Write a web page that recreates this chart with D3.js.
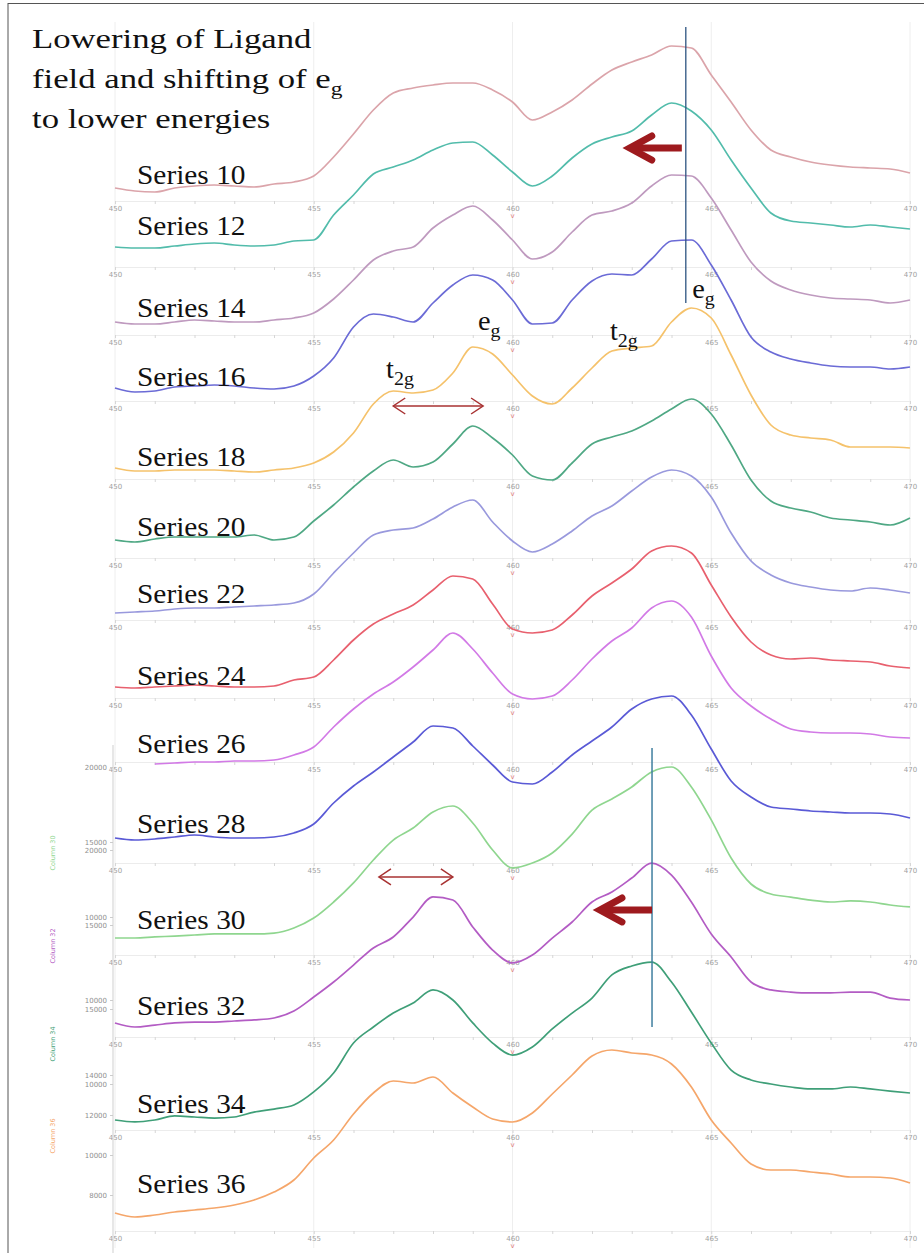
<!DOCTYPE html>
<html>
<head>
<meta charset="utf-8">
<script src="https://cdn.jsdelivr.net/npm/d3@7"></script>
<style>
  html, body { margin: 0; padding: 0; background: #fff; }
  svg { display: block; }
</style>
</head>
<body>
<svg id="chart" width="924" height="1253"></svg>
<script>
// ---- data -------------------------------------------------------------
const wavelength = [450, 450.5, 451, 451.5, 452, 452.5, 453, 453.5, 454, 454.5,
  455, 455.5, 456, 456.5, 457, 457.5, 458, 458.5, 459, 459.5,
  460, 460.5, 461, 461.5, 462, 462.5, 463, 463.5, 464, 464.5,
  465, 465.5, 466, 466.5, 467, 467.5, 468, 468.5, 469, 469.5, 470];

const seriesNames = ["Series 10", "Series 12", "Series 14", "Series 16", "Series 18",
  "Series 20", "Series 22", "Series 24", "Series 26", "Series 28",
  "Series 30", "Series 32", "Series 34", "Series 36"];

const s10 = [11050,10900,10850,11050,11150,11200,11150,11100,11250,11350,11650,12600,13750,14950,15800,16050,16200,16300,16300,15950,15350,14450,14850,15450,16250,16950,17350,17700,18150,18050,16700,15350,13950,12950,12600,12350,12200,12100,12050,12000,11800];
const s12 = [11400,11350,11350,11450,11550,11600,11500,11450,11500,11700,11750,13000,14000,15050,15400,15750,16250,16600,16650,16000,15150,14450,14950,15850,16550,16900,17200,18000,18600,18200,17250,15750,14350,13100,12700,12600,12500,12400,12500,12400,12300];
const s14 = [11050,10950,10950,11050,11150,11100,11050,11050,11150,11250,11500,12200,13150,14150,14600,14800,15750,16400,16850,16150,15150,14200,14550,15550,16400,16600,17000,17850,18400,18350,17250,15650,14050,13100,12650,12400,12250,12200,12150,12000,12150];
const s16 = [11050,10850,10900,11100,11150,11200,11150,11050,11000,11150,11650,12550,14100,14750,14600,14350,15300,16200,16700,16450,15450,14250,14300,15450,16400,16750,16700,17500,18400,18450,17200,15450,13600,12850,12500,12300,12150,12100,12100,12000,12100];
const s18 = [10950,10800,10800,10850,10850,10850,10800,10750,10850,10950,11200,11750,12700,14150,14800,14700,14850,15700,17000,16650,15600,14550,14150,14950,15950,16800,16950,17050,18250,18950,18450,16600,14600,13100,12600,12450,12350,12000,12000,12000,11950];
const s20 = [11300,11200,11350,11450,11450,11450,11450,11550,11300,11450,12250,13050,13950,14750,15300,14950,15200,16100,17000,16400,15550,14500,14300,15150,16100,16450,16750,17250,17850,18350,17600,16050,14300,13250,12900,12700,12400,12300,12200,12050,12400];
const s22 = [10750,10800,10850,10950,11000,11000,11050,11100,11150,11250,11700,12750,13750,14650,14900,15000,15450,16050,16400,15300,14350,13800,14200,14850,15600,16100,16850,17550,17900,17600,16550,14750,13350,12650,12250,12050,11900,11850,12000,11900,11750];
const s24 = [10950,10900,10950,11000,11050,11000,10950,10950,11000,11300,11450,12300,13300,14100,14600,15050,15800,16500,16350,15100,13850,13650,13800,14550,15500,16150,16850,17750,18000,17650,16050,14450,13200,12550,12350,12400,12300,12250,12200,12000,11900];
const s26 = [null,null,10300,10350,10400,10400,10450,10450,10500,10750,11150,12150,13050,13800,14400,15150,16000,16850,16050,14850,13800,13550,13700,14500,15550,16450,17100,18100,18450,17650,15700,14100,13200,12550,12050,11900,11850,11850,11800,11650,11600];
const s28 = [11650,11550,11600,11700,11800,11700,11650,11650,11700,11900,12350,13400,14250,14950,15700,16450,17250,17150,16250,15300,14450,14350,14950,15800,16500,17200,18100,18600,18750,17800,16100,14500,13700,13200,13100,13000,12950,12900,12900,12850,12650];
const s30 = [8600,8600,8670,8730,8800,8870,8870,8870,8930,9270,9930,11000,12270,13800,15130,15930,17000,17400,16270,14470,13270,13600,14270,15530,17130,17870,18670,19670,20000,18670,16470,13930,12200,11530,11330,11130,11000,11070,11000,10800,10670];
const s32 = [8470,8200,8330,8470,8530,8530,8600,8670,8800,9270,10200,11200,12330,13470,14200,15530,16870,16670,14870,13330,12470,13000,14130,15200,16530,17200,18130,19130,18330,16530,14400,12870,11200,10670,10530,10470,10470,10530,10530,10130,10000];
const s34 = [7600,7470,7600,7870,7800,7730,7800,8130,8330,8600,9470,10730,12730,13800,14730,15400,16270,15600,14070,12730,11930,12470,13670,14730,15730,17270,17870,18130,16800,14800,12730,10930,10270,10000,9800,9670,9670,9800,9670,9530,9400];
const s36 = [7100,6900,7000,7150,7250,7350,7500,7750,8150,8750,9850,10750,12050,13100,13700,13600,13900,13100,12400,11800,11650,12100,13050,14000,14950,15250,15100,15000,14550,13400,11750,10600,9550,9250,9250,9150,9050,8900,8900,8850,8600];

const seriesValues = [s10, s12, s14, s16, s18, s20, s22, s24, s26, s28, s30, s32, s34, s36];

const xTickLabels = [450, 455, 460, 465, 470];
const columnNames = ["Column 30", "Column 32", "Column 34", "Column 36"];
const countTicks = [[10000, 15000, 20000], [10000, 15000, 20000], [10000, 15000], [8000, 10000, 12000, 14000]];

// ---- layout -----------------------------------------------------------
const W = 924, H = 1253;
const seriesColors = ["#dba4aa", "#52bcab", "#bf9abf", "#6b6bd6", "#f5c26b", "#4fa884", "#9999dd",
  "#e8606e", "#d27ae6", "#5a5ad6", "#8fd68f", "#b35cc4", "#3f9f78", "#f5a66a"];
const axisRowY = [209, 275, 343, 409, 487, 566, 628, 706, 770, 871, 963, 1045, 1138, 1239];
const labelBaseY = [184, 235, 317, 386, 466, 536, 603, 685, 753, 833, 929, 1015, 1113, 1193];

const svg = d3.select("#chart");
const x = d3.scaleLinear().domain([450, 470]).range([115, 910]);

// one vertical scale per stacked panel (counts -> pixels)
const yScales = axisRowY.map((ry, i) => {
  if (i < 10) return d3.scaleLinear().domain([10000, 20000]).range([ry, ry - 200]);
  if (i === 10) return d3.scaleLinear().domain([10000, 20000]).range([917, 767]);
  if (i === 11) return d3.scaleLinear().domain([10000, 20000]).range([1000, 850]);
  if (i === 12) return d3.scaleLinear().domain([10000, 15000]).range([1084, 1009]);
  return d3.scaleLinear().domain([8000, 14000]).range([1195, 1075]);
});
const at = (panel, nm, count) => [x(nm), yScales[panel](count)];

// ---- frame and faint grid -----------------------------------------------
svg.append("line").attr("x1", 8).attr("x2", 8).attr("y1", 3).attr("y2", H)
  .attr("stroke", "#555").attr("stroke-width", 1);
svg.append("line").attr("x1", 8).attr("x2", W).attr("y1", 3.5).attr("y2", 3.5)
  .attr("stroke", "#555").attr("stroke-width", 1);

svg.append("g").selectAll("line").data(xTickLabels).join("line")
  .attr("x1", d => x(d)).attr("x2", d => x(d))
  .attr("y1", 22).attr("y2", 1248)
  .attr("stroke", "#eeeeee").attr("stroke-width", 1);

// ---- per-panel wavelength axes -------------------------------------------
const minorTicks = d3.range(450, 471, 1);
axisRowY.forEach((ry) => {
  const g = svg.append("g").attr("transform", `translate(0,${ry - 8})`)
    .call(d3.axisBottom(x).tickValues(minorTicks).tickSize(3).tickSizeOuter(0).tickPadding(2)
      .tickFormat(d => xTickLabels.includes(d) ? d : ""));
  g.select(".domain").attr("stroke", "#ececec");
  g.selectAll(".tick line").attr("stroke", "#d6d6d6");
  g.selectAll(".tick text").attr("fill", "#a0a0a0")
    .style("font-family", "'DejaVu Sans', sans-serif").style("font-size", "7px");
  svg.append("text").attr("x", x(460)).attr("y", ry + 9)
    .attr("text-anchor", "middle").attr("fill", "#e07b7b")
    .style("font-family", "'DejaVu Sans', sans-serif").style("font-size", "7px")
    .text("v");
});

// ---- count axes of the lower panels ---------------------------------------
svg.append("line").attr("x1", 113).attr("x2", 113).attr("y1", 745).attr("y2", H)
  .attr("stroke", "#cfcfcf").attr("stroke-width", 1);
countTicks.forEach((ticks, k) => {
  const g = svg.append("g").attr("transform", "translate(113,0)")
    .call(d3.axisLeft(yScales[10 + k]).tickValues(ticks).tickSize(3).tickSizeOuter(0).tickPadding(3)
      .tickFormat(d3.format("d")));
  g.select(".domain").remove();
  g.selectAll(".tick line").attr("stroke", "#cccccc");
  g.selectAll(".tick text").attr("fill", "#8f8f8f")
    .style("font-family", "'DejaVu Sans', sans-serif").style("font-size", "7px");
});
const columnCenters = [853, 946, 1044, 1136];
columnNames.forEach((name, k) => {
  svg.append("text")
    .attr("transform", `translate(55,${columnCenters[k]}) rotate(-90)`)
    .attr("text-anchor", "middle")
    .attr("fill", seriesColors[10 + k])
    .style("font-family", "'DejaVu Sans', sans-serif").style("font-size", "6.5px")
    .text(name);
});

// ---- spectra ---------------------------------------------------------------
seriesValues.forEach((vals, i) => {
  const line = d3.line()
    .defined(d => d != null)
    .x((d, j) => x(wavelength[j]))
    .y(d => yScales[i](d))
    .curve(d3.curveMonotoneX);
  svg.append("path")
    .datum(vals)
    .attr("d", line)
    .attr("fill", "none")
    .attr("stroke", seriesColors[i])
    .attr("stroke-width", 1.7)
    .attr("stroke-linejoin", "round");
});

// ---- text ------------------------------------------------------------------
const serif = "'Liberation Serif', 'Times New Roman', serif";

seriesNames.forEach((name, i) => {
  svg.append("text")
    .attr("transform", `translate(137,${labelBaseY[i]}) scale(1.05,1)`)
    .attr("fill", "#111")
    .style("font-family", serif).style("font-size", "28px")
    .text(name);
});

const titleLines = [
  { y: 48, main: "Lowering of Ligand", sub: "" },
  { y: 88, main: "field and shifting of e", sub: "g" },
  { y: 128, main: "to lower energies", sub: "" }
];
titleLines.forEach(t => {
  const tx = svg.append("text")
    .attr("transform", `translate(32,${t.y}) scale(1.24,1)`)
    .attr("fill", "#111")
    .style("font-family", serif).style("font-size", "28px");
  tx.append("tspan").text(t.main);
  if (t.sub) tx.append("tspan").attr("dy", 7).style("font-size", "19px").text(t.sub);
});

// band labels, placed in the Series 16 panel coordinates
const bandLabels = [
  { nm: 459.13, count: 13950, main: "e", sub: "g" },
  { nm: 456.82, count: 11550, main: "t", sub: "2g" },
  { nm: 462.45, count: 13450, main: "t", sub: "2g" },
  { nm: 464.52, count: 15550, main: "e", sub: "g" }
];
bandLabels.forEach(b => {
  const [bx, by] = at(3, b.nm, b.count);
  const tx = svg.append("text")
    .attr("transform", `translate(${bx},${by}) scale(1.05,1)`)
    .attr("fill", "#111")
    .style("font-family", serif).style("font-size", "27px");
  tx.append("tspan").text(b.main);
  tx.append("tspan").attr("dy", 7).style("font-size", "19px").text(b.sub);
});

// ---- guide lines and arrows ----------------------------------------------------
const guideLines = [
  { panel: 0, nm: 464.36, from: 19100, to: 5300, color: "#2d5480", width: 1.3 },
  { panel: 10, nm: 463.51, from: 21270, to: 2670, color: "#3f7f9f", width: 1.5 }
];
guideLines.forEach(g => {
  const [gx, gy1] = at(g.panel, g.nm, g.from);
  const gy2 = yScales[g.panel](g.to);
  svg.append("line").attr("x1", gx).attr("x2", gx).attr("y1", gy1).attr("y2", gy2)
    .attr("stroke", g.color).attr("stroke-width", g.width);
});

const shiftArrows = [
  { panel: 1, from: 464.26, to: 462.9, count: 16350 },
  { panel: 10, from: 463.51, to: 462.15, count: 10470 }
];
shiftArrows.forEach(a => {
  const [x0, y0] = at(a.panel, a.from, a.count);
  const x1 = x(a.to);
  svg.append("line").attr("x1", x0).attr("x2", x1 + 4).attr("y1", y0).attr("y2", y0)
    .attr("stroke", "#9e1a1e").attr("stroke-width", 7);
  svg.append("path")
    .attr("d", `M${x1 + 24},${y0 - 12} L${x1 + 2},${y0} L${x1 + 24},${y0 + 12}`)
    .attr("fill", "none").attr("stroke", "#9e1a1e").attr("stroke-width", 7)
    .attr("stroke-linejoin", "miter").attr("stroke-linecap", "round");
});

const splitArrows = [
  { panel: 3, from: 457.0, to: 459.26, count: 10150 },
  { panel: 10, from: 456.64, to: 458.5, count: 12670 }
];
splitArrows.forEach(a => {
  const [x0, y0] = at(a.panel, a.from, a.count);
  const x1 = x(a.to);
  svg.append("line").attr("x1", x0).attr("x2", x1).attr("y1", y0).attr("y2", y0)
    .attr("stroke", "#a83232").attr("stroke-width", 1.5);
  svg.append("path")
    .attr("d", `M${x0 + 12},${y0 - 8} L${x0},${y0} L${x0 + 12},${y0 + 8} M${x1 - 12},${y0 - 8} L${x1},${y0} L${x1 - 12},${y0 + 8}`)
    .attr("fill", "none").attr("stroke", "#a83232").attr("stroke-width", 1.5);
});
</script>
</body>
</html>
